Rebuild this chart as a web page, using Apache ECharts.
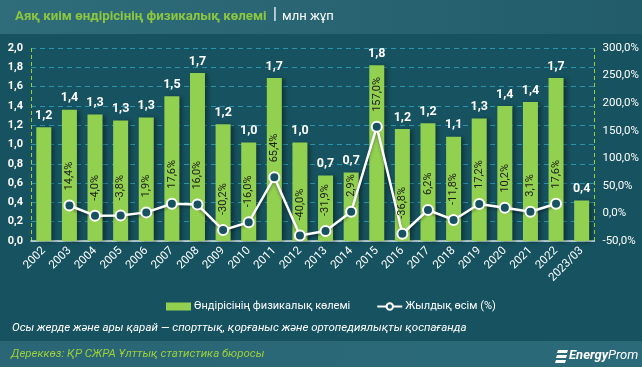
<!DOCTYPE html>
<html>
<head>
<meta charset="utf-8">
<script src="https://cdn.jsdelivr.net/npm/echarts@6/dist/echarts.min.js"></script>
<style>
html,body{margin:0;padding:0;background:#16525f;}
#c{width:642px;height:367px;}
</style>
</head>
<body>
<div id="c"></div>
<script>
const categories = ['2002','2003','2004','2005','2006','2007','2008','2009','2010','2011','2012','2013','2014','2015','2016','2017','2018','2019','2020','2021','2022','2023/03'];
const volume = [1.18,1.36,1.31,1.25,1.28,1.50,1.74,1.21,1.02,1.69,1.02,0.68,0.71,1.82,1.16,1.22,1.08,1.27,1.40,1.44,1.69,0.42];
const growth = [null,14.4,-4.0,-3.8,1.9,17.6,16.0,-30.2,-16.0,65.4,-40.0,-31.9,2.9,157.0,-36.8,6.2,-11.8,17.2,10.2,3.1,17.6,null];
const leftTicks = {min:0, max:2.0, interval:0.2};
const rightTicks = {min:-50, max:300, interval:50};
const titleMain = 'Аяқ киім өндірісінің физикалық көлемі';
const titleUnit = 'млн жұп';
const seriesNames = ['Өндірісінің физикалық көлемі','Жылдық өсім (%)'];
const footnote = 'Осы жерде және ары қарай — спорттық, қорғаныс және ортопедиялықты қоспағанда';
const source = 'Дереккөз: ҚР СЖРА Ұлттық статистика бюросы';

const FONT = 'Roboto';
const comma = (v, d) => v.toFixed(d).replace('.', ',');
const chart = echarts.init(document.getElementById('c'), null, {renderer:'canvas'});
chart.setOption({
  backgroundColor:'#16525f',
  animation:false,
  textStyle:{fontFamily:FONT},
  graphic:[
    {type:'rect', left:0, top:0, shape:{width:642, height:34}, z:-1,
      style:{fill:new echarts.graphic.LinearGradient(0,0,1,0,[{offset:0,color:'#2f6d7b'},{offset:1,color:'#225c6b'}])}},
    {type:'rect', left:0, top:341, shape:{width:642, height:26}, z:-1,
      style:{fill:new echarts.graphic.LinearGradient(0,0,1,0,[{offset:0,color:'#2a6675'},{offset:1,color:'#2a6a79'}])}},
    {type:'text', left:15, top:10, style:{text:titleMain, fill:'#8dc63f', font:'bold 13.3px Roboto'}},
    {type:'text', left:273, top:7, style:{text:'|', fill:'#ffffff', font:'16px Roboto'}},
    {type:'text', left:282, top:10, style:{text:titleUnit, fill:'#ffffff', font:'13px Roboto'}},
    {type:'text', left:12, top:322, style:{text:footnote, fill:'#ffffff', font:'italic 11.5px Roboto'}},
    {type:'text', left:11, top:348, style:{text:source, fill:'#9ccf3a', font:'italic 11.5px Roboto'}},
    {type:'group', left:555, top:350, children:[
      {type:'polygon', shape:{points:[[3,0],[13,0],[12,3],[2,3]]}, style:{fill:'#ffffff'}},
      {type:'polygon', shape:{points:[[2,5],[12,5],[11,8],[1,8]]}, style:{fill:'#ffffff'}},
      {type:'polygon', shape:{points:[[1,10],[11,10],[10,13],[0,13]]}, style:{fill:'#ffffff'}}
    ]},
    {type:'text', left:569, top:349, style:{text:'{a|Energy}{b|Prom}', rich:{
      a:{fill:'#ffffff', font:'italic bold 13px Roboto'},
      b:{fill:'#ffffff', font:'italic 13px Roboto'}}}}
  ],
  legend:{
    top:296, left:161, itemGap:26, itemWidth:25, itemHeight:8,
    textStyle:{color:'#ffffff', fontSize:11, fontFamily:FONT, padding:[0,0,0,-2]},
    data:[{name:seriesNames[0], icon:'rect'}, {name:seriesNames[1]}]
  },
  grid:{left:31, right:43, top:48, bottom:126},
  xAxis:{
    type:'category', data:categories,
    axisLine:{lineStyle:{color:'#d8e2e4', width:1.5}},
    axisTick:{show:false},
    axisLabel:{rotate:45, color:'#ffffff', fontSize:11.5, margin:8, interval:0},
    splitLine:{show:true, interval:(i)=>i===21, lineStyle:{color:'#9ccf3a', type:[4,3], width:1}}
  },
  yAxis:[
    {type:'value', min:leftTicks.min, max:leftTicks.max, interval:leftTicks.interval,
      axisLabel:{color:'#ffffff', fontSize:11, fontWeight:'bold', formatter:v=>comma(v,1), margin:8},
      axisLine:{show:false}, axisTick:{show:false},
      splitLine:{lineStyle:{color:'#2b93ad', type:[5,4], width:1}}},
    {type:'value', min:rightTicks.min, max:rightTicks.max, interval:rightTicks.interval,
      axisLabel:{color:'#ffffff', fontSize:11.5, formatter:v=>comma(v,1)+'%', margin:8},
      axisLine:{show:false}, axisTick:{show:false}, splitLine:{show:false}}
  ],
  series:[
    {name:seriesNames[0], type:'bar', data:volume, barWidth:15, yAxisIndex:0,
      itemStyle:{color:'#92d050', shadowColor:'rgba(0,0,0,0.35)', shadowBlur:4, shadowOffsetX:3, shadowOffsetY:1},
      label:{show:true, position:'top', distance:5, color:'#ffffff', fontWeight:'bold', fontSize:12.5,
        formatter:p=>comma(p.value,1)}},
    {name:seriesNames[1], type:'line', data:growth, yAxisIndex:1, connectNulls:false,
      symbol:'circle', symbolSize:10, showAllSymbol:true,
      lineStyle:{color:'#ffffff', width:2.5, shadowColor:'rgba(0,0,0,0.35)', shadowBlur:3, shadowOffsetY:2},
      itemStyle:{color:'#16525f', borderColor:'#ffffff', borderWidth:2},
      label:{show:true, position:'top', rotate:90, align:'left', verticalAlign:'middle', distance:9,
        color:'#1b1b1b', fontSize:11, formatter:p=>p.value==null?'':comma(p.value,1)+'%'}}
  ]
});
</script>
</body>
</html>
